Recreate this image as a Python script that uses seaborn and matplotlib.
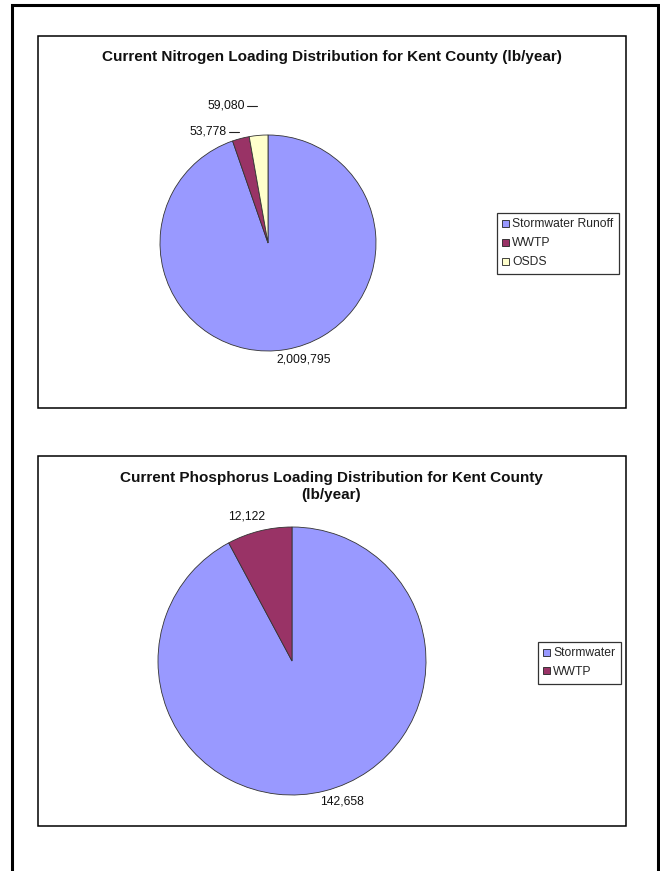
import matplotlib
matplotlib.use("Agg")
import matplotlib.pyplot as plt
import seaborn as sns
import numpy as np
from matplotlib.patches import Rectangle, Patch

# ---- data ----
n_title = "Current Nitrogen Loading Distribution for Kent County (lb/year)"
n_categories = ["Stormwater Runoff", "WWTP", "OSDS"]
n_values = [2009795, 53778, 59080]

p_title = "Current Phosphorus Loading Distribution for Kent County\n(lb/year)"
p_categories = ["Stormwater", "WWTP"]
p_values = [142658, 12122]

colors = ["#9999FF", "#993366", "#FFFFCC"]

sns.set_theme(style="white")
plt.rcParams['font.family'] = ['Liberation Sans', 'DejaVu Sans']

W, H = 660, 871
fig = plt.figure(figsize=(W / 100, H / 100), dpi=100)
fig.patch.set_facecolor("white")

def fx(px):
    return px / W

def fy(py):
    return 1 - py / H

# outer border (bottom runs off the page)
fig.add_artist(Rectangle((fx(12), fy(890)), fx(658) - fx(12), fy(5) - fy(890),
                         transform=fig.transFigure, fill=False, lw=2.2, ec="black"))
# chart boxes
for top, bot in [(36, 408), (456, 826)]:
    fig.add_artist(Rectangle((fx(38), fy(bot)), fx(626) - fx(38), fy(top) - fy(bot),
                             transform=fig.transFigure, fill=False, lw=1.1, ec="black"))

def fmt(v):
    return f"{v:,}"

def pie_axes(cx, cy, R, ext=1.5):
    half = R * ext
    return fig.add_axes([fx(cx - half), fy(cy + half), 2 * half / W, 2 * half / H])

LBL = 8.7
LEG = 8.7

# ---- Nitrogen pie ----
ax1 = pie_axes(268, 243, 108)
pal1 = sns.color_palette(colors[:len(n_values)])
ax1.pie(n_values, colors=pal1, startangle=90, counterclock=False,
        wedgeprops=dict(edgecolor="#333333", linewidth=0.6))
ax1.set_xlim(-1.5, 1.5)
ax1.set_ylim(-1.5, 1.5)
ax1.axis("off")
# label placement (text only)
n_label_xy = [(0.33, -1.08, "center"), (-0.38, 1.03, "right"), (-0.215, 1.27, "right")]
for v, (x, y, ha) in zip(n_values, n_label_xy):
    ax1.text(x, y, fmt(v), ha=ha, va="center", fontsize=LBL, color="#111111")
    if ha == "right":
        ax1.plot([x + 0.02, x + 0.11], [y, y], color="#222222", lw=0.8)

h1 = [Patch(facecolor=c, edgecolor="#222222", lw=0.6) for c in pal1]
leg1 = fig.legend(h1, n_categories, loc="upper left",
                  bbox_to_anchor=(fx(497), fy(213)), bbox_transform=fig.transFigure,
                  fontsize=LEG, frameon=True, fancybox=False, edgecolor="black",
                  handlelength=0.55, handleheight=0.55, handletextpad=0.25,
                  borderpad=0.45, labelspacing=0.58, borderaxespad=0)
leg1.get_frame().set_linewidth(0.9)

# ---- Phosphorus pie ----
ax2 = pie_axes(292, 661, 134)
pal2 = sns.color_palette(colors[:len(p_values)])
ax2.pie(p_values, colors=pal2, startangle=90, counterclock=False,
        wedgeprops=dict(edgecolor="#333333", linewidth=0.6))
ax2.set_xlim(-1.5, 1.5)
ax2.set_ylim(-1.5, 1.5)
ax2.axis("off")
p_label_xy = [(0.37, -1.05, "center"), (-0.335, 1.075, "center")]
for v, (x, y, ha) in zip(p_values, p_label_xy):
    ax2.text(x, y, fmt(v), ha=ha, va="center", fontsize=LBL, color="#111111")

h2 = [Patch(facecolor=c, edgecolor="#222222", lw=0.6) for c in pal2]
leg2 = fig.legend(h2, p_categories, loc="upper left",
                  bbox_to_anchor=(fx(538), fy(642)), bbox_transform=fig.transFigure,
                  fontsize=LEG, frameon=True, fancybox=False, edgecolor="black",
                  handlelength=0.55, handleheight=0.55, handletextpad=0.25,
                  borderpad=0.45, labelspacing=0.55, borderaxespad=0)
leg2.get_frame().set_linewidth(0.9)

# ---- titles ----
fig.text(fx(332), fy(57), n_title, ha="center", va="center",
         fontsize=11, fontweight="bold", color="#111111")
fig.text(fx(331), fy(486.5), p_title, ha="center", va="center",
         fontsize=11, fontweight="bold", color="#111111", linespacing=1.22)

fig.savefig("out.png", dpi=100, facecolor="white")
